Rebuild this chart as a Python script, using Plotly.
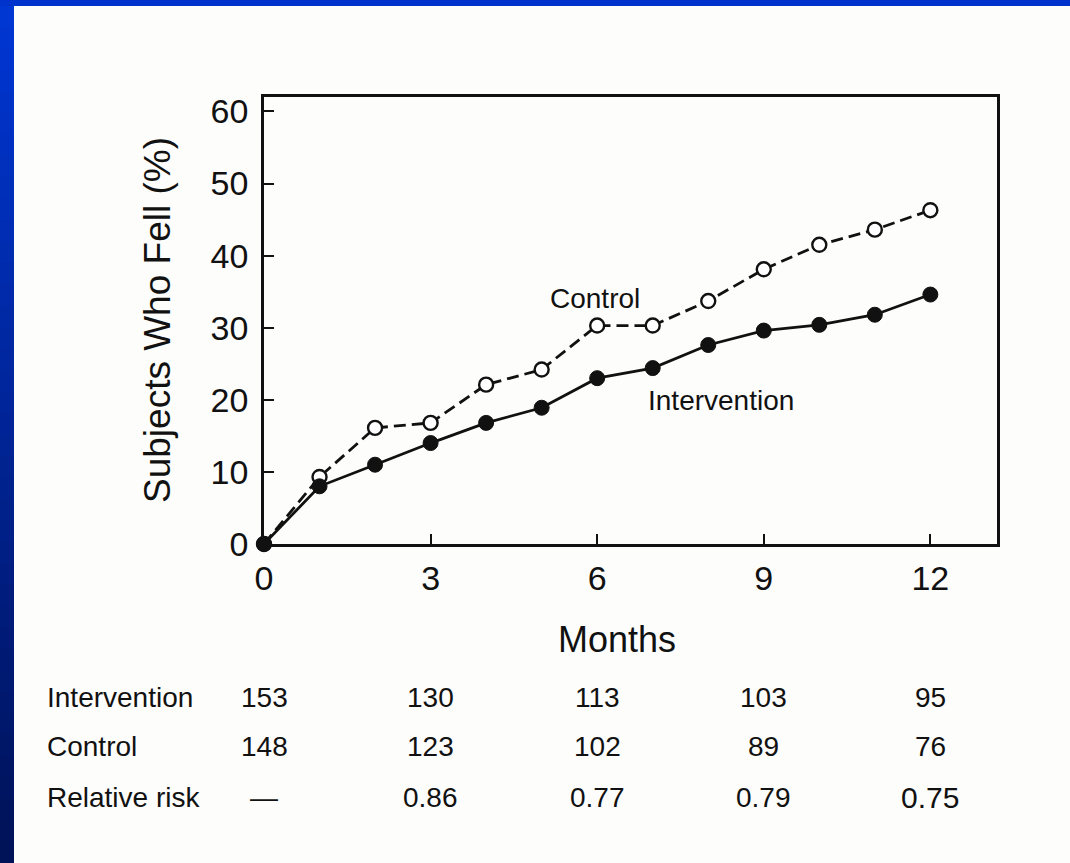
import plotly.graph_objects as go

# ---- data ----
months = [0, 1, 2, 3, 4, 5, 6, 7, 8, 9, 10, 11, 12]
control = [0, 9.3, 16.1, 16.8, 22.1, 24.2, 30.3, 30.3, 33.7, 38.1, 41.5, 43.6, 46.3]
intervention = [0, 8.0, 11.0, 14.0, 16.8, 18.9, 23.0, 24.4, 27.6, 29.6, 30.4, 31.8, 34.6]

x_ticks = [0, 3, 6, 9, 12]
y_ticks = [0, 10, 20, 30, 40, 50, 60]

table_months = [0, 3, 6, 9, 12]
row_labels = ["Intervention", "Control", "Relative risk"]
n_intervention = ["153", "130", "113", "103", "95"]
n_control = ["148", "123", "102", "89", "76"]
rel_risk = ["\u2014", "0.86", "0.77", "0.79", "0.75"]

# ---- geometry helpers (pixel layout) ----
W, H = 1070, 863
L, R, T, B = 264, 997, 97, 544
PW, PH = R - L, B - T


def px(x):
    return (x - L) / PW


def py(y):
    return (B - y) / PH


FONT = "Liberation Sans, Arial, Helvetica, sans-serif"
INK = "#111111"

fig = go.Figure()

fig.add_trace(go.Scatter(
    x=months, y=control, mode="lines+markers", name="Control",
    line=dict(color=INK, width=2.8, dash="12px,6px"),
    marker=dict(symbol="circle", size=14, color="white",
                line=dict(color=INK, width=2.4)),
    showlegend=False, cliponaxis=False,
))
fig.add_trace(go.Scatter(
    x=months, y=intervention, mode="lines+markers", name="Intervention",
    line=dict(color=INK, width=2.8),
    marker=dict(symbol="circle", size=15, color=INK,
                line=dict(color=INK, width=1)),
    showlegend=False, cliponaxis=False,
))

shapes = []
# background: blue frame with gradient left strip, white page
shapes.append(dict(type="rect", xref="paper", yref="paper",
                   x0=px(-5), x1=px(W + 5), y0=py(H + 5), y1=py(-5),
                   fillcolor="#0033cc", line=dict(width=0), layer="below"))
n = 40
top_c = (0, 54, 210)
bot_c = (0, 18, 88)
for i in range(n):
    t = i / (n - 1)
    c = tuple(int(round(top_c[k] + (bot_c[k] - top_c[k]) * t)) for k in range(3))
    y0 = 6 + (H - 6) * i / n
    y1 = 6 + (H - 6) * (i + 1) / n
    shapes.append(dict(type="rect", xref="paper", yref="paper",
                       x0=px(-5), x1=px(14), y0=py(y1 + 1), y1=py(y0),
                       fillcolor="rgb(%d,%d,%d)" % c, line=dict(width=0), layer="below"))
shapes.append(dict(type="rect", xref="paper", yref="paper",
                   x0=px(14), x1=px(W + 5), y0=py(H + 5), y1=py(6),
                   fillcolor="#fdfdfb", line=dict(width=0), layer="below"))

annotations = []
annotations.append(dict(text="Subjects Who Fell (%)", xref="paper", yref="paper",
                        x=px(157), y=py(320), textangle=-90, showarrow=False,
                        font=dict(family=FONT, size=37, color=INK),
                        xanchor="center", yanchor="middle"))
annotations.append(dict(text="Months", xref="paper", yref="paper",
                        x=px(617), y=py(639), showarrow=False,
                        font=dict(family=FONT, size=36, color=INK),
                        xanchor="center", yanchor="middle"))
annotations.append(dict(text="Control", xref="paper", yref="paper",
                        x=px(595), y=py(298), showarrow=False,
                        font=dict(family=FONT, size=28, color=INK),
                        xanchor="center", yanchor="middle"))
annotations.append(dict(text="Intervention", xref="paper", yref="paper",
                        x=px(721), y=py(400), showarrow=False,
                        font=dict(family=FONT, size=28, color=INK),
                        xanchor="center", yanchor="middle"))

row_y = [697, 746, 797]
rows = [n_intervention, n_control, rel_risk]
for lbl, ry, vals in zip(row_labels, row_y, rows):
    annotations.append(dict(text=lbl, xref="paper", yref="paper",
                            x=px(45), y=py(ry), showarrow=False,
                            font=dict(family=FONT, size=28, color=INK),
                            xanchor="left", yanchor="middle"))
    for m, v in zip(table_months, vals):
        annotations.append(dict(text=v, xref="x", yref="paper",
                                x=m, y=py(ry), showarrow=False,
                                font=dict(family=FONT, size=28 if v != "0.75" else 30, color=INK),
                                xanchor="center", yanchor="middle"))

fig.update_layout(
    width=W, height=H,
    margin=dict(l=L, r=W - R, t=T, b=H - B, pad=0),
    paper_bgcolor="#0033cc",
    plot_bgcolor="rgba(0,0,0,0)",
    shapes=shapes,
    annotations=annotations,
    font=dict(family=FONT, color=INK),
    xaxis=dict(range=[0, 13.2], tickmode="array", tickvals=x_ticks,
               ticktext=[str(v) for v in x_ticks],
               ticks="inside", ticklen=10, tickwidth=2, tickcolor=INK,
               showline=True, linecolor=INK, linewidth=2.5, mirror=True,
               showgrid=False, zeroline=False,
               tickfont=dict(family=FONT, size=34, color=INK),
               ticklabelstandoff=2),
    yaxis=dict(range=[0, 62], tickmode="array", tickvals=y_ticks,
               ticktext=[str(v) for v in y_ticks],
               ticks="inside", ticklen=10, tickwidth=2, tickcolor=INK,
               showline=True, linecolor=INK, linewidth=2.5, mirror=True,
               showgrid=False, zeroline=False,
               tickfont=dict(family=FONT, size=34, color=INK),
               ticklabelstandoff=6),
)

fig.write_html(
    "out.html",
    config={"displayModeBar": False},
    post_script="document.body.style.margin='0';document.body.style.overflow='hidden';",
)
